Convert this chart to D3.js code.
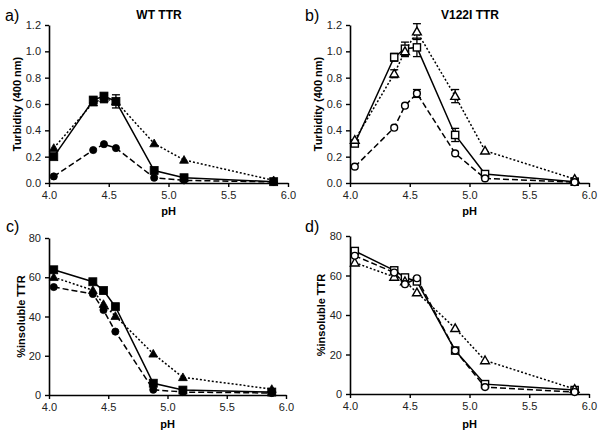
<!DOCTYPE html>
<html><head><meta charset="utf-8">
<script src="https://cdn.jsdelivr.net/npm/d3@7"></script>
<style>body{margin:0;background:#fff}svg{display:block}text{font-family:"Liberation Sans",Arial,sans-serif}</style>
</head><body><svg id="c" width="602" height="436"></svg>
<script>
// ---- data ----
const pH = [4.04, 4.37, 4.46, 4.56, 4.88, 5.13, 5.88];
const xTicks = [4.0, 4.5, 5.0, 5.5, 6.0];
const turbTicks = [0.0, 0.2, 0.4, 0.6, 0.8, 1.0, 1.2];
const pctTicks = [0, 20, 40, 60, 80];
const panelLabels = ["a)", "b)", "c)", "d)"];
const panelTitles = ["WT TTR", "V122I TTR", "", ""];
const yLabels = ["Turbidity (400 nm)", "Turbidity (400 nm)", "%insoluble TTR", "%insoluble TTR"];
const xLabel = "pH";

// WT turbidity
const aSquare = [0.20, 0.63, 0.66, 0.62, 0.095, 0.04, 0.01];
const aTriangle = [0.265, 0.61, 0.64, 0.62, 0.30, 0.175, 0.02];
const aCircle = [0.05, 0.25, 0.295, 0.265, 0.04, 0.02, 0.008];
const aSquareErr = [0, 0.02, 0.02, 0.05, 0, 0, 0];
const aTriangleErr = [0, 0, 0.03, 0, 0, 0, 0];
// V122I turbidity
const bSquare = [0.30, 0.955, 1.02, 1.03, 0.365, 0.068, 0.01];
const bTriangle = [0.327, 0.83, 1.00, 1.15, 0.66, 0.245, 0.03];
const bCircle = [0.124, 0.42, 0.587, 0.68, 0.225, 0.035, 0.006];
const bSquareErr = [0, 0.03, 0.05, 0.07, 0.05, 0, 0];
const bTriangleErr = [0, 0.03, 0.04, 0.06, 0.05, 0, 0];
const bCircleErr = [0, 0, 0, 0.03, 0, 0, 0];
// WT % insoluble
const cSquare = [63.8, 57.7, 53.2, 45, 6, 2.5, 1.5];
const cTriangle = [60, 53.4, 46.3, 40.2, 21, 9, 3];
const cCircle = [55, 51.5, 43.3, 32.3, 2.7, 1.5, 1];
// V122I % insoluble
const dSquare = [72.4, 62.6, 59, 57, 22, 5, 2];
const dTriangle = [66.5, 59.3, 57, 51.4, 33.3, 17, 2.5];
const dCircle = [70, 61.5, 55.6, 58.6, 22, 3.5, 1];

// ---- layout ----
const panels = [
  {x0:49, x1:288, y0:25, y1:183, ymax:1.2, ticks:turbTicks, fmt:d3.format(".1f"), filled:true,
   series:[{v:aSquare,e:aSquareErr,m:"square",dash:null},{v:aTriangle,e:aTriangleErr,m:"triangle",dash:"2,2"},{v:aCircle,e:null,m:"circle",dash:"6,3"}],
   lx:5, ly:21, tx:159, ty:19, xlY:215, ylX:17},
  {x0:350, x1:589, y0:25, y1:183, ymax:1.2, ticks:turbTicks, fmt:d3.format(".1f"), filled:false,
   series:[{v:bSquare,e:bSquareErr,m:"square",dash:null},{v:bTriangle,e:bTriangleErr,m:"triangle",dash:"2,2"},{v:bCircle,e:bCircleErr,m:"circle",dash:"6,3"}],
   lx:305, ly:21, tx:470, ty:19, xlY:215, ylX:318},
  {x0:49, x1:286, y0:238, y1:395, ymax:80, ticks:pctTicks, fmt:d3.format("d"), filled:true,
   series:[{v:cSquare,e:null,m:"square",dash:null},{v:cTriangle,e:null,m:"triangle",dash:"2,2"},{v:cCircle,e:null,m:"circle",dash:"6,3"}],
   lx:6, ly:232, tx:0, ty:0, xlY:428, ylX:21},
  {x0:350, x1:589, y0:236, y1:394, ymax:80, ticks:pctTicks, fmt:d3.format("d"), filled:false,
   series:[{v:dSquare,e:null,m:"square",dash:null},{v:dTriangle,e:null,m:"triangle",dash:"2,2"},{v:dCircle,e:null,m:"circle",dash:"6,3"}],
   lx:305, ly:232, tx:0, ty:0, xlY:428, ylX:321}
];

const svg = d3.select("#c");

panels.forEach((p, i) => {
  const x = d3.scaleLinear().domain([4, 6]).range([p.x0, p.x1]);
  const y = d3.scaleLinear().domain([0, p.ymax]).range([p.y1, p.y0]);
  const g = svg.append("g");

  // axes
  const xa = g.append("g").attr("transform", `translate(0,${p.y1})`)
    .call(d3.axisBottom(x).tickValues(xTicks).tickFormat(d3.format(".1f")).tickSize(4).tickSizeOuter(0));
  const ya = g.append("g").attr("transform", `translate(${p.x0},0)`)
    .call(d3.axisLeft(y).tickValues(p.ticks).tickFormat(p.fmt).tickSize(4).tickSizeOuter(0));
  [xa, ya].forEach(a => {
    a.select(".domain").attr("stroke", "#000").attr("stroke-width", 1.6);
    a.selectAll(".tick line").attr("stroke", "#000").attr("stroke-width", 1.4);
    a.selectAll(".tick text").attr("font-size", 11).attr("fill", "#222")
      .attr("font-family", '"Liberation Sans",Arial,sans-serif');
  });
  xa.selectAll(".tick text").attr("dy", "0.85em");
  ya.selectAll(".tick text").attr("dx", "-1");

  // series
  p.series.forEach(s => {
    const line = d3.line().x((d, j) => x(pH[j])).y(d => y(d));
    g.append("path").datum(s.v).attr("d", line).attr("fill", "none")
      .attr("stroke", "#000").attr("stroke-width", 1.5)
      .attr("stroke-dasharray", s.dash);
  });
  p.series.forEach(s => {
    // error bars
    if (s.e) {
      s.v.forEach((v, j) => {
        const e = s.e[j];
        if (!e) return;
        const cx = x(pH[j]);
        g.append("line").attr("x1", cx).attr("x2", cx).attr("y1", y(v - e)).attr("y2", y(v + e))
          .attr("stroke", "#000").attr("stroke-width", 1.3);
        [v - e, v + e].forEach(t => g.append("line").attr("x1", cx - 4).attr("x2", cx + 4)
          .attr("y1", y(t)).attr("y2", y(t)).attr("stroke", "#000").attr("stroke-width", 1.3));
      });
    }
  });
  p.series.forEach(s => {
    const fill = p.filled ? "#000" : "#fff";
    const sw = p.filled ? 0.8 : 1.4;
    s.v.forEach((v, j) => {
      const cx = x(pH[j]), cy = y(v);
      if (s.m === "square") {
        const h = p.filled ? 4 : 3.6;
        g.append("rect").attr("x", cx - h).attr("y", cy - h).attr("width", 2 * h).attr("height", 2 * h)
          .attr("fill", fill).attr("stroke", "#000").attr("stroke-width", sw);
      } else if (s.m === "circle") {
        g.append("circle").attr("cx", cx).attr("cy", cy).attr("r", p.filled ? 3.6 : 3.4)
          .attr("fill", fill).attr("stroke", "#000").attr("stroke-width", sw);
      } else {
        const r = 4.4;
        g.append("path").attr("d", `M${cx},${cy - r}L${cx + r},${cy + r * 0.75}L${cx - r},${cy + r * 0.75}Z`)
          .attr("fill", fill).attr("stroke", "#000").attr("stroke-width", sw);
      }
    });
  });

  // labels
  svg.append("text").attr("x", p.lx).attr("y", p.ly).attr("font-size", 16).attr("fill", "#000").text(panelLabels[i]);
  if (panelTitles[i]) svg.append("text").attr("x", p.tx).attr("y", p.ty).attr("text-anchor", "middle")
    .attr("font-size", 12).attr("font-weight", "bold").text(panelTitles[i]);
  svg.append("text").attr("x", (p.x0 + p.x1) / 2).attr("y", p.xlY).attr("text-anchor", "middle")
    .attr("font-size", 11).attr("font-weight", "bold").text(xLabel);
  svg.append("text").attr("transform", `translate(${p.ylX},${(p.y0 + p.y1) / 2}) rotate(-90)`)
    .attr("text-anchor", "middle").attr("dy", "0.35em")
    .attr("font-size", 11).attr("font-weight", "bold").text(yLabels[i]);
});
</script></body></html>
